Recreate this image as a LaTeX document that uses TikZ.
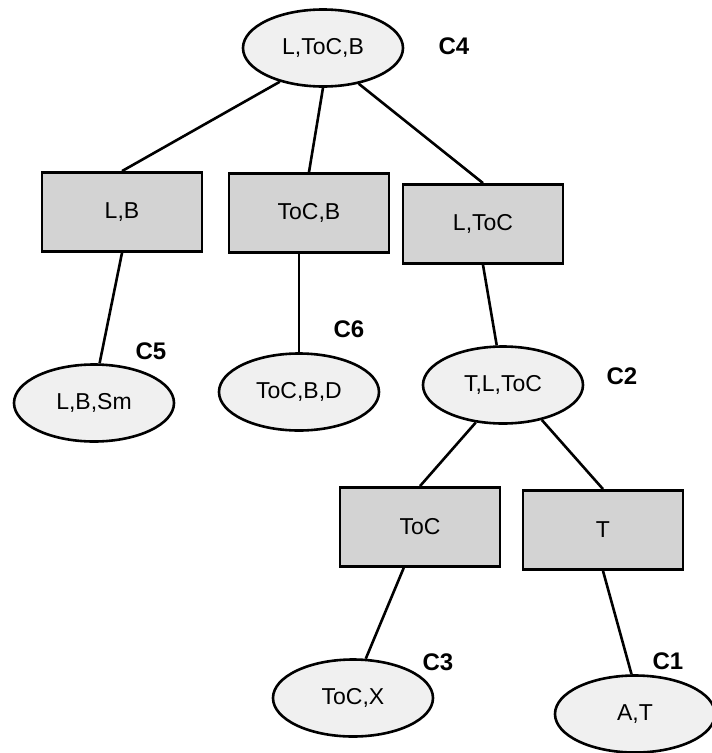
\documentclass[tikz,border=0pt]{standalone}
\usepackage{fontspec}
\setmainfont{Liberation Sans}
\usetikzlibrary{shapes.geometric,calc}

\definecolor{setfill}{HTML}{F0F0F0}
\definecolor{sepfill}{HTML}{D3D3D3}

\tikzset{
  clique/.style={ellipse, draw=black, line width=2.6pt, fill=setfill,
    minimum width=160pt, minimum height=77pt, inner sep=0pt,
    font=\fontsize{23}{25}\selectfont},
  sepbox/.style={rectangle, draw=black, line width=2.8pt, fill=sepfill,
    minimum width=160pt, minimum height=79pt, inner sep=0pt,
    font=\fontsize{23}{25}\selectfont},
  tag/.style={font=\bfseries\fontsize{24}{26}\selectfont, inner sep=0pt},
  link/.style={draw=black, line width=2.6pt}
}

\begin{document}
\begin{tikzpicture}[x=1pt,y=-1pt]
  \useasboundingbox[fill=white] (0,0) rectangle (712,753);

  % cliques
  \node[clique] (c4)  at (323,48)  {L,ToC,B};
  \node[clique] (c5)  at (94,403)  {L,B,Sm};
  \node[clique] (c6)  at (299,392) {ToC,B,D};
  \node[clique] (c2)  at (503,385) {T,L,ToC};
  \node[clique] (c3)  at (353,698) {ToC,X};
  \node[clique] (c1)  at (635,714) {A,T};

  % separators
  \node[sepbox] (lb)  at (122,212) {L,B};
  \node[sepbox] (tcb) at (309,213) {ToC,B};
  \node[sepbox] (lt)  at (483,224) {L,ToC};
  \node[sepbox] (toc) at (420,527) {ToC};
  \node[sepbox] (t)   at (603,530) {T};

  % tree edges
  \draw[link] (c4.218) -- (lb.north);
  \draw[link] (c4.south) -- (tcb.north);
  \draw[link] (c4.315) -- (lt.north);
  \draw[link] (lb.south) -- (c5.82);
  \draw[link] (c6.north) -- (c6.north |- tcb.south);
  \draw[link] (lt.south) -- (c2.99);
  \draw[link] (c2.234) -- (toc.north);
  \draw[link] (c2.318) -- (t.north);
  \draw[link] ($(toc.south west)!0.4!(toc.south east)$) -- (c3.72);
  \draw[link] (t.south) -- (c1.95);

  % clique labels
  \node[tag] (l4) at (454,46)  {C4};
  \node[tag] (l5) at (151,351) {C5};
  \node[tag] (l6) at (349,329) {C6};
  \node[tag] (l2) at (622,376) {C2};
  \node[tag] (l3) at (438,662) {C3};
  \node[tag] (l1) at (668,661) {C1};
\end{tikzpicture}
\end{document}
